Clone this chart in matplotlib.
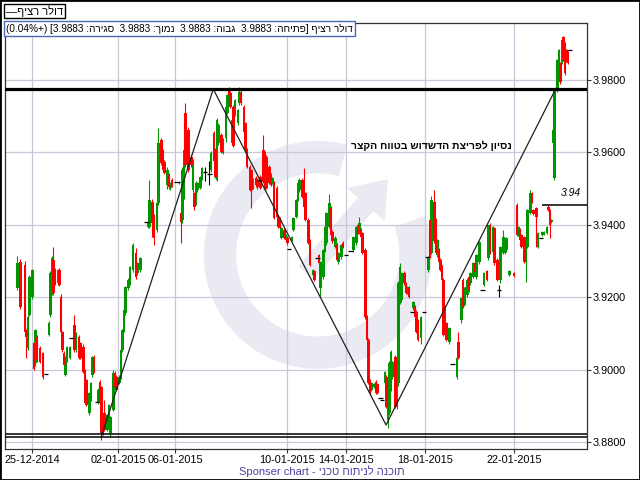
import numpy as np
import matplotlib
matplotlib.use("Agg")
import matplotlib.pyplot as plt
from matplotlib.patches import Wedge, FancyArrow, Rectangle

plt.rcParams['font.family'] = ['Liberation Sans', 'DejaVu Sans']

# Hourly bars (slot number on the x axis) and OHLC values

bars = [9, 11, 14, 15, 16, 17, 19, 20, 21, 22,
        24, 26, 28, 30, 31, 32, 33, 34, 36, 37,
        38, 39, 40, 41, 42, 44, 45, 47, 48, 50,
        51, 53, 54, 55, 57, 58, 59, 60, 62, 63,
        64, 65, 66, 67, 69, 70, 71, 73, 74, 75,
        77, 78, 79, 80, 81, 83, 84, 86, 88, 89,
        91, 95, 96, 97, 99, 100, 102, 103, 105, 106,
        107, 109, 110, 111, 112, 115, 117, 118, 119, 120,
        121, 123, 125, 126, 127, 128, 129, 131, 132, 134,
        137, 138, 140, 141, 142, 143, 145, 146, 148, 149,
        150, 151, 152, 153, 154, 156, 157, 158, 160, 161,
        162, 164, 165, 166, 168, 169, 170, 171, 173, 174,
        175, 177, 178, 179, 180, 182, 183, 184, 185, 187,
        188, 189, 190, 192, 193, 195, 196, 197, 199, 200,
        201, 203, 204, 206, 207, 209, 210, 211, 213, 214,
        215, 217, 218, 219, 221, 222, 223, 225, 226, 228,
        231, 233, 235, 236, 237, 238, 239, 241, 242, 243,
        244, 245, 247, 248, 249, 251, 252, 254, 255, 256,
        257, 258, 259, 261, 262, 263, 264, 265, 267, 268,
        269, 270, 272, 273, 274, 275, 276, 278, 280, 282,
        283, 284, 285, 287, 288, 289, 290, 291, 292, 293,
        294, 295, 297, 299, 302, 303, 305, 306, 307, 308,
        309, 310, 311, 313, 314, 315, 317, 319, 320, 322,
        323, 324, 326, 327, 329, 330, 331, 333, 334, 335,
        337, 340, 342, 343, 344, 345, 347, 348, 349, 351,
        352, 353, 355, 356, 358, 359, 360, 362, 363, 364,
        365, 366, 367, 369, 370, 371, 372, 373, 374, 375,
        376, 377]

opens = [3.9225, 3.9297, 3.9289, 3.9109, 3.9059, 3.9150, 3.9201, 3.9073, 3.9018, 3.9090,
         3.9059, 3.9046, 3.8988, 3.9096, 3.9151, 3.9212, 3.9303, 3.9275, 3.9239, 3.9275,
         3.9201, 3.9104, 3.9046, 3.8985, 3.9027, 3.9032, 3.9087, 3.9123, 3.9054, 3.9090,
         3.9073, 3.9062, 3.8999, 3.8971, 3.8880, 3.8916, 3.8985, 3.9035, 3.8910, 3.8908,
         3.8966, 3.8952, 3.8825, 3.8880, 3.8833, 3.8852, 3.8825, 3.8888, 3.8990, 3.8980,
         3.8963, 3.8980, 3.9054, 3.9109, 3.9156, 3.9225, 3.9239, 3.9275, 3.9322, 3.9267,
         3.9275, 3.9408, 3.9394, 3.9394, 3.9463, 3.9422, 3.9386, 3.9460, 3.9634, 3.9601,
         3.9573, 3.9510, 3.9538, 3.9502, 3.9524, 3.9518, 3.9515, 3.9433, 3.9413, 3.9477,
         3.9709, 3.9662, 3.9587, 3.9496, 3.9488, 3.9460, 3.9496, 3.9502, 3.9529, 3.9545,
         3.9540, 3.9551, 3.9654, 3.9607, 3.9524, 3.9626, 3.9648, 3.9598, 3.9640, 3.9709,
         3.9772, 3.9764, 3.9626, 3.9725, 3.9703, 3.9681, 3.9736, 3.9764, 3.9725, 3.9681,
         3.9607, 3.9560, 3.9551, 3.9505, 3.9529, 3.9524, 3.9524, 3.9532, 3.9607, 3.9601,
         3.9587, 3.9560, 3.9538, 3.9515, 3.9515, 3.9502, 3.9422, 3.9419, 3.9364, 3.9386,
         3.9358, 3.9364, 3.9333, 3.9358, 3.9386, 3.9422, 3.9468, 3.9496, 3.9524, 3.9524,
         3.9488, 3.9413, 3.9358, 3.9261, 3.9272, 3.9308, 3.9317, 3.9225, 3.9256, 3.9330,
         3.9350, 3.9394, 3.9446, 3.9380, 3.9339, 3.9344, 3.9297, 3.9311, 3.9350, 3.9317,
         3.9328, 3.9330, 3.9350, 3.9399, 3.9380, 3.9386, 3.9377, 3.9330, 3.9145, 3.9082,
         3.8971, 3.8944, 3.8952, 3.8966, 3.8960, 3.8922, 3.8916, 3.8963, 3.8980, 3.8861,
         3.8880, 3.8944, 3.8980, 3.9035, 3.8897, 3.8963, 3.9184, 3.9192, 3.9267, 3.9239,
         3.9212, 3.9225, 3.9159, 3.9170, 3.9173, 3.9159, 3.9137, 3.9087, 3.9159, 3.9311,
         3.9275, 3.9413, 3.9322, 3.9463, 3.9413, 3.9317, 3.9330, 3.9303, 3.9283, 3.9248,
         3.9104, 3.9129, 3.9076, 3.9015, 3.8980, 3.9076, 3.9137, 3.9248, 3.9178, 3.9212,
         3.9206, 3.9256, 3.9239, 3.9256, 3.9294, 3.9256, 3.9297, 3.9220, 3.9234, 3.9272,
         3.9308, 3.9399, 3.9325, 3.9391, 3.9303, 3.9220, 3.9248, 3.9322, 3.9325, 3.9330,
         3.9261, 3.9267, 3.9455, 3.9372, 3.9386, 3.9372, 3.9366, 3.9297, 3.9339, 3.9433,
         3.9485, 3.9441, 3.9446, 3.9339, 3.9364, 3.9372, 3.9375, 3.9377, 3.9449, 3.9441,
         3.9408, 3.9626, 3.9529, 3.9772, 3.9819, 3.9847, 3.9847, 3.9919, 3.9902, 3.9883,
         3.9875, 3.9883]

highs = [3.9314, 3.9305, 3.9300, 3.9112, 3.9150, 3.9262, 3.9278, 3.9080, 3.9112, 3.9095,
         3.9065, 3.9050, 3.8988, 3.9133, 3.9272, 3.9315, 3.9339, 3.9280, 3.9278, 3.9280,
         3.9210, 3.9108, 3.9052, 3.9038, 3.9065, 3.9065, 3.9087, 3.9151, 3.9104, 3.9095,
         3.9076, 3.9070, 3.9002, 3.8975, 3.8938, 3.8966, 3.9038, 3.9040, 3.8910, 3.8948,
         3.8970, 3.8955, 3.8855, 3.8916, 3.8878, 3.8905, 3.8872, 3.9000, 3.8995, 3.8985,
         3.8985, 3.9058, 3.9112, 3.9168, 3.9232, 3.9252, 3.9287, 3.9350, 3.9335, 3.9297,
         3.9311, 3.9408, 3.9410, 3.9524, 3.9470, 3.9430, 3.9465, 3.9667, 3.9640, 3.9610,
         3.9580, 3.9560, 3.9542, 3.9518, 3.9530, 3.9518, 3.9520, 3.9438, 3.9560, 3.9709,
         3.9736, 3.9670, 3.9595, 3.9582, 3.9492, 3.9520, 3.9518, 3.9535, 3.9560, 3.9560,
         3.9575, 3.9605, 3.9660, 3.9612, 3.9695, 3.9680, 3.9655, 3.9640, 3.9728, 3.9762,
         3.9780, 3.9770, 3.9692, 3.9730, 3.9748, 3.9720, 3.9780, 3.9775, 3.9730, 3.9685,
         3.9612, 3.9565, 3.9555, 3.9528, 3.9535, 3.9528, 3.9524, 3.9538, 3.9648, 3.9605,
         3.9592, 3.9565, 3.9542, 3.9532, 3.9520, 3.9506, 3.9426, 3.9422, 3.9394, 3.9390,
         3.9375, 3.9368, 3.9333, 3.9368, 3.9422, 3.9470, 3.9518, 3.9528, 3.9528, 3.9557,
         3.9492, 3.9418, 3.9362, 3.9278, 3.9275, 3.9308, 3.9320, 3.9300, 3.9333, 3.9397,
         3.9436, 3.9485, 3.9452, 3.9385, 3.9368, 3.9350, 3.9325, 3.9348, 3.9355, 3.9317,
         3.9328, 3.9370, 3.9397, 3.9405, 3.9422, 3.9390, 3.9380, 3.9335, 3.9150, 3.9087,
         3.8975, 3.8966, 3.8962, 3.8970, 3.8963, 3.8922, 3.8916, 3.8996, 3.8985, 3.8966,
         3.9025, 3.9055, 3.9025, 3.9040, 3.8966, 3.9245, 3.9294, 3.9270, 3.9272, 3.9242,
         3.9232, 3.9230, 3.9159, 3.9190, 3.9178, 3.9165, 3.9140, 3.9148, 3.9159, 3.9311,
         3.9314, 3.9418, 3.9480, 3.9496, 3.9418, 3.9362, 3.9335, 3.9308, 3.9288, 3.9252,
         3.9178, 3.9132, 3.9118, 3.9015, 3.9035, 3.9104, 3.9201, 3.9252, 3.9228, 3.9232,
         3.9252, 3.9260, 3.9270, 3.9297, 3.9300, 3.9320, 3.9355, 3.9220, 3.9270, 3.9276,
         3.9400, 3.9404, 3.9397, 3.9395, 3.9308, 3.9234, 3.9342, 3.9386, 3.9352, 3.9366,
         3.9275, 3.9269, 3.9460, 3.9397, 3.9390, 3.9375, 3.9370, 3.9370, 3.9445, 3.9496,
         3.9490, 3.9445, 3.9450, 3.9380, 3.9364, 3.9383, 3.9382, 3.9396, 3.9455, 3.9445,
         3.9415, 3.9665, 3.9775, 3.9858, 3.9886, 3.9850, 3.9915, 3.9922, 3.9905, 3.9886,
         3.9880, 3.9883]

lows = [3.9220, 3.9167, 3.9093, 3.9032, 3.9055, 3.9147, 3.9195, 3.8998, 3.9010, 3.9020,
        3.9018, 3.8975, 3.8988, 3.9093, 3.9145, 3.9205, 3.9205, 3.9235, 3.9235, 3.9230,
        3.9100, 3.9050, 3.9010, 3.8982, 3.9020, 3.9030, 3.9087, 3.9050, 3.9050, 3.9030,
        3.9030, 3.8990, 3.8905, 3.8900, 3.8875, 3.8912, 3.8980, 3.8990, 3.8910, 3.8905,
        3.8905, 3.8806, 3.8820, 3.8830, 3.8830, 3.8850, 3.8814, 3.8885, 3.8950, 3.8940,
        3.8960, 3.8975, 3.9050, 3.9105, 3.9150, 3.9220, 3.9235, 3.9270, 3.9250, 3.9260,
        3.9270, 3.9408, 3.9390, 3.9390, 3.9366, 3.9344, 3.9380, 3.9455, 3.9565, 3.9545,
        3.9540, 3.9500, 3.9500, 3.9495, 3.9505, 3.9518, 3.9512, 3.9350, 3.9405, 3.9470,
        3.9560, 3.9545, 3.9560, 3.9490, 3.9440, 3.9455, 3.9490, 3.9498, 3.9525, 3.9520,
        3.9510, 3.9545, 3.9571, 3.9530, 3.9520, 3.9620, 3.9598, 3.9595, 3.9630, 3.9705,
        3.9755, 3.9722, 3.9620, 3.9615, 3.9700, 3.9675, 3.9730, 3.9730, 3.9650, 3.9605,
        3.9558, 3.9494, 3.9446, 3.9500, 3.9505, 3.9500, 3.9524, 3.9498, 3.9515, 3.9500,
        3.9500, 3.9512, 3.9508, 3.9512, 3.9415, 3.9420, 3.9390, 3.9388, 3.9360, 3.9360,
        3.9355, 3.9345, 3.9333, 3.9355, 3.9382, 3.9418, 3.9465, 3.9492, 3.9474, 3.9446,
        3.9410, 3.9347, 3.9286, 3.9258, 3.9245, 3.9308, 3.9292, 3.9200, 3.9250, 3.9325,
        3.9345, 3.9390, 3.9370, 3.9350, 3.9335, 3.9300, 3.9292, 3.9305, 3.9335, 3.9317,
        3.9328, 3.9325, 3.9345, 3.9375, 3.9375, 3.9364, 3.9318, 3.9140, 3.9080, 3.8960,
        3.8930, 3.8940, 3.8948, 3.8932, 3.8932, 3.8922, 3.8916, 3.8960, 3.8895, 3.8840,
        3.8875, 3.8940, 3.8975, 3.8895, 3.8890, 3.8955, 3.9180, 3.9188, 3.9235, 3.9209,
        3.9209, 3.9198, 3.9159, 3.9165, 3.9142, 3.9100, 3.9080, 3.9070, 3.9159, 3.9311,
        3.9270, 3.9308, 3.9318, 3.9350, 3.9318, 3.9312, 3.9294, 3.9272, 3.9245, 3.9093,
        3.9100, 3.9080, 3.9072, 3.9015, 3.8975, 3.9030, 3.9130, 3.9170, 3.9175, 3.9208,
        3.9200, 3.9215, 3.9235, 3.9252, 3.9265, 3.9250, 3.9292, 3.9220, 3.9230, 3.9245,
        3.9304, 3.9320, 3.9320, 3.9290, 3.9245, 3.9201, 3.9240, 3.9318, 3.9320, 3.9325,
        3.9258, 3.9256, 3.9370, 3.9368, 3.9355, 3.9336, 3.9294, 3.9242, 3.9335, 3.9430,
        3.9460, 3.9428, 3.9339, 3.9335, 3.9364, 3.9370, 3.9372, 3.9374, 3.9438, 3.9364,
        3.9405, 3.9620, 3.9525, 3.9768, 3.9815, 3.9790, 3.9843, 3.9852, 3.9815, 3.9850,
        3.9845, 3.9883]

closes = [3.9294, 3.9173, 3.9104, 3.9090, 3.9145, 3.9256, 3.9275, 3.9002, 3.9109, 3.9027,
          3.9021, 3.8980, 3.8988, 3.9129, 3.9267, 3.9308, 3.9212, 3.9239, 3.9275, 3.9234,
          3.9104, 3.9054, 3.9013, 3.9035, 3.9062, 3.9062, 3.9087, 3.9054, 3.9096, 3.9032,
          3.9032, 3.8993, 3.8908, 3.8902, 3.8935, 3.8963, 3.9035, 3.8993, 3.8910, 3.8944,
          3.8908, 3.8825, 3.8852, 3.8833, 3.8875, 3.8902, 3.8869, 3.8990, 3.8952, 3.8944,
          3.8980, 3.9054, 3.9109, 3.9165, 3.9228, 3.9248, 3.9283, 3.9344, 3.9256, 3.9294,
          3.9308, 3.9408, 3.9408, 3.9468, 3.9405, 3.9364, 3.9460, 3.9626, 3.9571, 3.9551,
          3.9543, 3.9551, 3.9505, 3.9515, 3.9510, 3.9518, 3.9518, 3.9408, 3.9551, 3.9607,
          3.9565, 3.9551, 3.9565, 3.9579, 3.9449, 3.9515, 3.9515, 3.9532, 3.9557, 3.9545,
          3.9540, 3.9598, 3.9575, 3.9532, 3.9689, 3.9675, 3.9601, 3.9634, 3.9725, 3.9759,
          3.9759, 3.9725, 3.9689, 3.9618, 3.9745, 3.9717, 3.9767, 3.9736, 3.9656, 3.9607,
          3.9560, 3.9496, 3.9496, 3.9524, 3.9510, 3.9505, 3.9524, 3.9502, 3.9518, 3.9502,
          3.9502, 3.9515, 3.9510, 3.9529, 3.9419, 3.9422, 3.9394, 3.9391, 3.9391, 3.9364,
          3.9372, 3.9350, 3.9333, 3.9366, 3.9419, 3.9468, 3.9515, 3.9524, 3.9477, 3.9449,
          3.9413, 3.9350, 3.9289, 3.9275, 3.9248, 3.9308, 3.9294, 3.9297, 3.9330, 3.9394,
          3.9433, 3.9460, 3.9372, 3.9355, 3.9364, 3.9303, 3.9322, 3.9344, 3.9339, 3.9317,
          3.9328, 3.9366, 3.9394, 3.9377, 3.9405, 3.9366, 3.9322, 3.9145, 3.9082, 3.8963,
          3.8935, 3.8963, 3.8960, 3.8935, 3.8935, 3.8922, 3.8916, 3.8993, 3.8897, 3.8963,
          3.9018, 3.9050, 3.9021, 3.8897, 3.8963, 3.9239, 3.9283, 3.9267, 3.9239, 3.9212,
          3.9228, 3.9201, 3.9159, 3.9187, 3.9145, 3.9104, 3.9082, 3.9145, 3.9159, 3.9311,
          3.9311, 3.9311, 3.9468, 3.9355, 3.9322, 3.9358, 3.9297, 3.9275, 3.9248, 3.9096,
          3.9173, 3.9082, 3.9115, 3.9015, 3.9032, 3.9032, 3.9198, 3.9173, 3.9225, 3.9228,
          3.9248, 3.9220, 3.9267, 3.9294, 3.9269, 3.9317, 3.9352, 3.9220, 3.9267, 3.9248,
          3.9399, 3.9322, 3.9394, 3.9294, 3.9248, 3.9220, 3.9339, 3.9366, 3.9350, 3.9364,
          3.9273, 3.9258, 3.9372, 3.9394, 3.9358, 3.9339, 3.9297, 3.9366, 3.9441, 3.9488,
          3.9463, 3.9430, 3.9422, 3.9377, 3.9364, 3.9380, 3.9380, 3.9394, 3.9441, 3.9399,
          3.9413, 3.9662, 3.9772, 3.9855, 3.9883, 3.9794, 3.9911, 3.9855, 3.9819, 3.9852,
          3.9847, 3.9883]

assert len(bars) == len(opens) == len(highs) == len(lows) == len(closes)

tick_bars = [19, 76, 114, 189, 228, 281, 340]
tick_dates = ['25-12-2014', '02-01-2015', '06-01-2015', '10-01-2015',
              '14-01-2015', '18-01-2015', '22-01-2015']
price_ticks = [3.88, 3.90, 3.92, 3.94, 3.96, 3.98]

# drawn studies
zigzag_bars = [65, 139.5, 254.7, 368]
zigzag_vals = [3.8816, 3.9775, 3.8847, 3.9777]
resistance = 3.9775
support = [3.8821, 3.8814]
level_394 = 3.9455


def rtl(s):
    # matplotlib has no bidi, so Hebrew runs are fed in visual order
    return s[::-1]


fig = plt.figure(figsize=(6.4, 4.8), dpi=100)
fig.patch.set_facecolor('white')

# faint logo watermark behind the chart
wm = fig.add_axes([0.309, 0.219, 0.375, 0.5], zorder=0)
wm.set_xlim(-1, 1)
wm.set_ylim(-1, 1)
wm.axis('off')
wm.add_patch(Wedge((0, 0), 0.95, 75, 380, width=0.27, color='#eaeaf3', lw=0))
wm.add_patch(FancyArrow(-0.1, -0.15, 0.5, 0.57, width=0.17, head_width=0.42,
                        head_length=0.28, color='#eaeaf3', lw=0))

ax = fig.add_axes([5/640, 31/480, 582/640, 426/480], zorder=1)
ax.patch.set_alpha(0)

x = np.array(bars, dtype=float)
o = np.array(opens)
h = np.array(highs)
l = np.array(lows)
c = np.array(closes)

up = c > o
down = c < o
flat = c == o

green = '#009600'
red = '#ff0000'

wick_col = np.where(up, green, np.where(down, red, 'black'))
ax.vlines(x, l, h, colors=wick_col, lw=0.8, zorder=3)
ax.bar(x[up], (c - o)[up], bottom=o[up], width=1.8, color=green, lw=0, zorder=3)
ax.bar(x[down], (o - c)[down], bottom=c[down], width=1.8, color=red, lw=0, zorder=3)
ax.hlines(c[flat], x[flat] - 1.6, x[flat] + 1.6, colors='black', lw=0.9, zorder=3)

# trend lines / levels
ax.plot(zigzag_bars, zigzag_vals, color='#202020', lw=0.9, zorder=4)
ax.axhline(resistance, color='black', lw=2.3, zorder=4)
for s in support:
    ax.axhline(s, color='black', lw=1.1, zorder=4)
ax.hlines(level_394, 359, 389, color='black', lw=1.1, zorder=4)
ax.text(371, 3.9487, '3.94', fontsize=7.5, style='italic',
        ha='left', va='center', zorder=5)
ax.text(338.5, 3.9618, rtl('נסיון לפריצת הדשדוש בטווח הקצר'), fontsize=7.5,
        fontweight='bold', ha='right', va='center', zorder=5)

ax.set_xlim(0.67, 388.67)
ax.set_ylim(3.87807, 3.99575)

ax.set_xticks(tick_bars)
ax.set_xticklabels(tick_dates)
ax.yaxis.tick_right()
ax.set_yticks(price_ticks)
ax.set_yticklabels(['%.4f' % v for v in price_ticks])
ax.tick_params(axis='both', direction='out', length=3, width=0.8,
               color='#333333', labelsize=7.8, pad=1.2)
ax.grid(True, color='#c8c8d8', lw=0.9, zorder=0)
ax.set_axisbelow(True)
for sp in ax.spines.values():
    sp.set_color('#333333')
    sp.set_linewidth(0.9)

# header boxes
header = ('(0.04%+) [3.9883 :' + rtl('סגירה') + '  3.9883 :' + rtl('נמוך') +
          '  3.9883 :' + rtl('גבוה') + '  3.9883 :' + rtl('פתיחה') + '] ' +
          rtl('דולר רציף'))
fig.text(6/640, 1 - 28.5/480, header, fontsize=7.2, ha='left', va='center', zorder=10,
         bbox=dict(boxstyle='square,pad=0.2', fc='white', ec='#4a6ab8', lw=1))
fig.text(6/640, 1 - 11/480, '\u2014' + rtl('דולר רציף'), fontsize=8, ha='left',
         va='center', zorder=10,
         bbox=dict(boxstyle='square,pad=0.15', fc='white', ec='black', lw=1))

fig.text(322/640, 1 - 471.5/480, 'Sponser chart - ' + rtl('תוכנה לניתוח טכני'),
         color='#5040a0', fontsize=8, ha='center', va='center')

fig.add_artist(Rectangle((0, 0), 1, 1, transform=fig.transFigure, fill=False,
                         ec='black', lw=2))

fig.savefig('out.png', dpi=100)
